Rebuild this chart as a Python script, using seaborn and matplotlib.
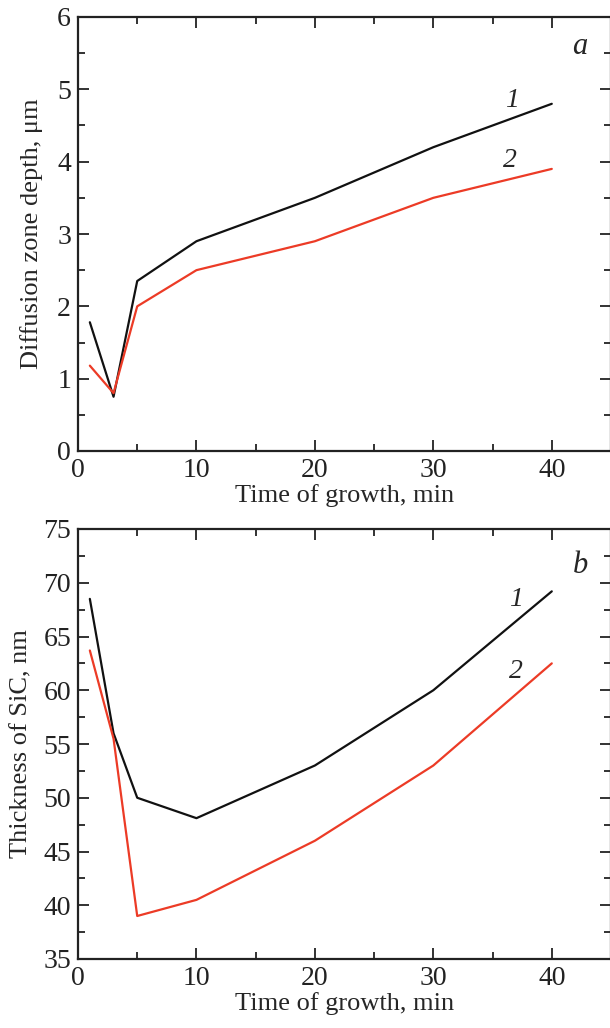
import matplotlib
matplotlib.use("Agg")
import matplotlib.pyplot as plt
import seaborn as sns
import pandas as pd
from matplotlib.ticker import MultipleLocator

# ---- data ----
time_min = [1, 3, 5, 10, 20, 30, 40]
depth_1 = [1.78, 0.75, 2.35, 2.9, 3.5, 4.2, 4.8]
depth_2 = [1.18, 0.80, 2.0, 2.5, 2.9, 3.5, 3.9]
thick_1 = [68.5, 56.0, 50.0, 48.1, 53.0, 60.0, 69.2]
thick_2 = [63.7, 55.5, 39.0, 40.5, 46.0, 53.0, 62.5]

sns.set_style("ticks")
plt.rcParams['font.family'] = ['Liberation Serif', 'DejaVu Serif']
plt.rcParams['mathtext.fontset'] = 'stix'

BLACK = '#111111'
RED = '#ec3b26'

fig = plt.figure(figsize=(6.10, 10.28), dpi=100)
ax1 = fig.add_axes([78/610, 1-451/1028, 533/610, 434/1028])
ax2 = fig.add_axes([78/610, 1-959/1028, 533/610, 430/1028])

def style(ax, ylo, yhi, ymaj, ymin):
    ax.set_xlim(0, 45)
    ax.set_ylim(ylo, yhi)
    ax.xaxis.set_major_locator(MultipleLocator(10))
    ax.xaxis.set_minor_locator(MultipleLocator(5))
    ax.yaxis.set_major_locator(MultipleLocator(ymaj))
    ax.yaxis.set_minor_locator(MultipleLocator(ymin))
    ax.tick_params(which='both', direction='in', top=True, right=True,
                   width=1.3, colors='#222222', labelsize=20, pad=5)
    ax.tick_params(which='major', length=8)
    ax.tick_params(which='minor', length=5)
    for s in ax.spines.values():
        s.set_linewidth(1.6)
        s.set_color('#222222')
    ax.set_xlabel("Time of growth, min", fontsize=19, labelpad=1)

df1 = pd.DataFrame({'t': time_min + time_min,
                    'v': depth_1 + depth_2,
                    's': ['1'] * len(time_min) + ['2'] * len(time_min)})
df2 = pd.DataFrame({'t': time_min + time_min,
                    'v': thick_1 + thick_2,
                    's': ['1'] * len(time_min) + ['2'] * len(time_min)})

sns.lineplot(data=df1, x='t', y='v', hue='s', palette={'1': BLACK, '2': RED},
             linewidth=1.6, legend=False, ax=ax1, sort=False)
sns.lineplot(data=df2, x='t', y='v', hue='s', palette={'1': BLACK, '2': RED},
             linewidth=1.6, legend=False, ax=ax2, sort=False)

style(ax1, 0, 6, 1, 0.5)
style(ax2, 35, 75, 5, 2.5)
ax1.set_ylabel("Diffusion zone depth, μm", fontsize=19, labelpad=10)
ax2.set_ylabel("Thickness of SiC, nm", fontsize=19, labelpad=8)

ax1.text(42.4, 5.59, "a", fontsize=22, style='italic', ha='center', va='center')
ax1.text(36.6, 4.85, "1", fontsize=20, style='italic', ha='center', va='center')
ax1.text(36.5, 4.02, "2", fontsize=20, style='italic', ha='center', va='center')
ax2.text(42.4, 71.6, "b", fontsize=22, style='italic', ha='center', va='center')
ax2.text(37.0, 68.4, "1", fontsize=20, style='italic', ha='center', va='center')
ax2.text(37.0, 61.7, "2", fontsize=20, style='italic', ha='center', va='center')

fig.savefig("out.png", dpi=100)
